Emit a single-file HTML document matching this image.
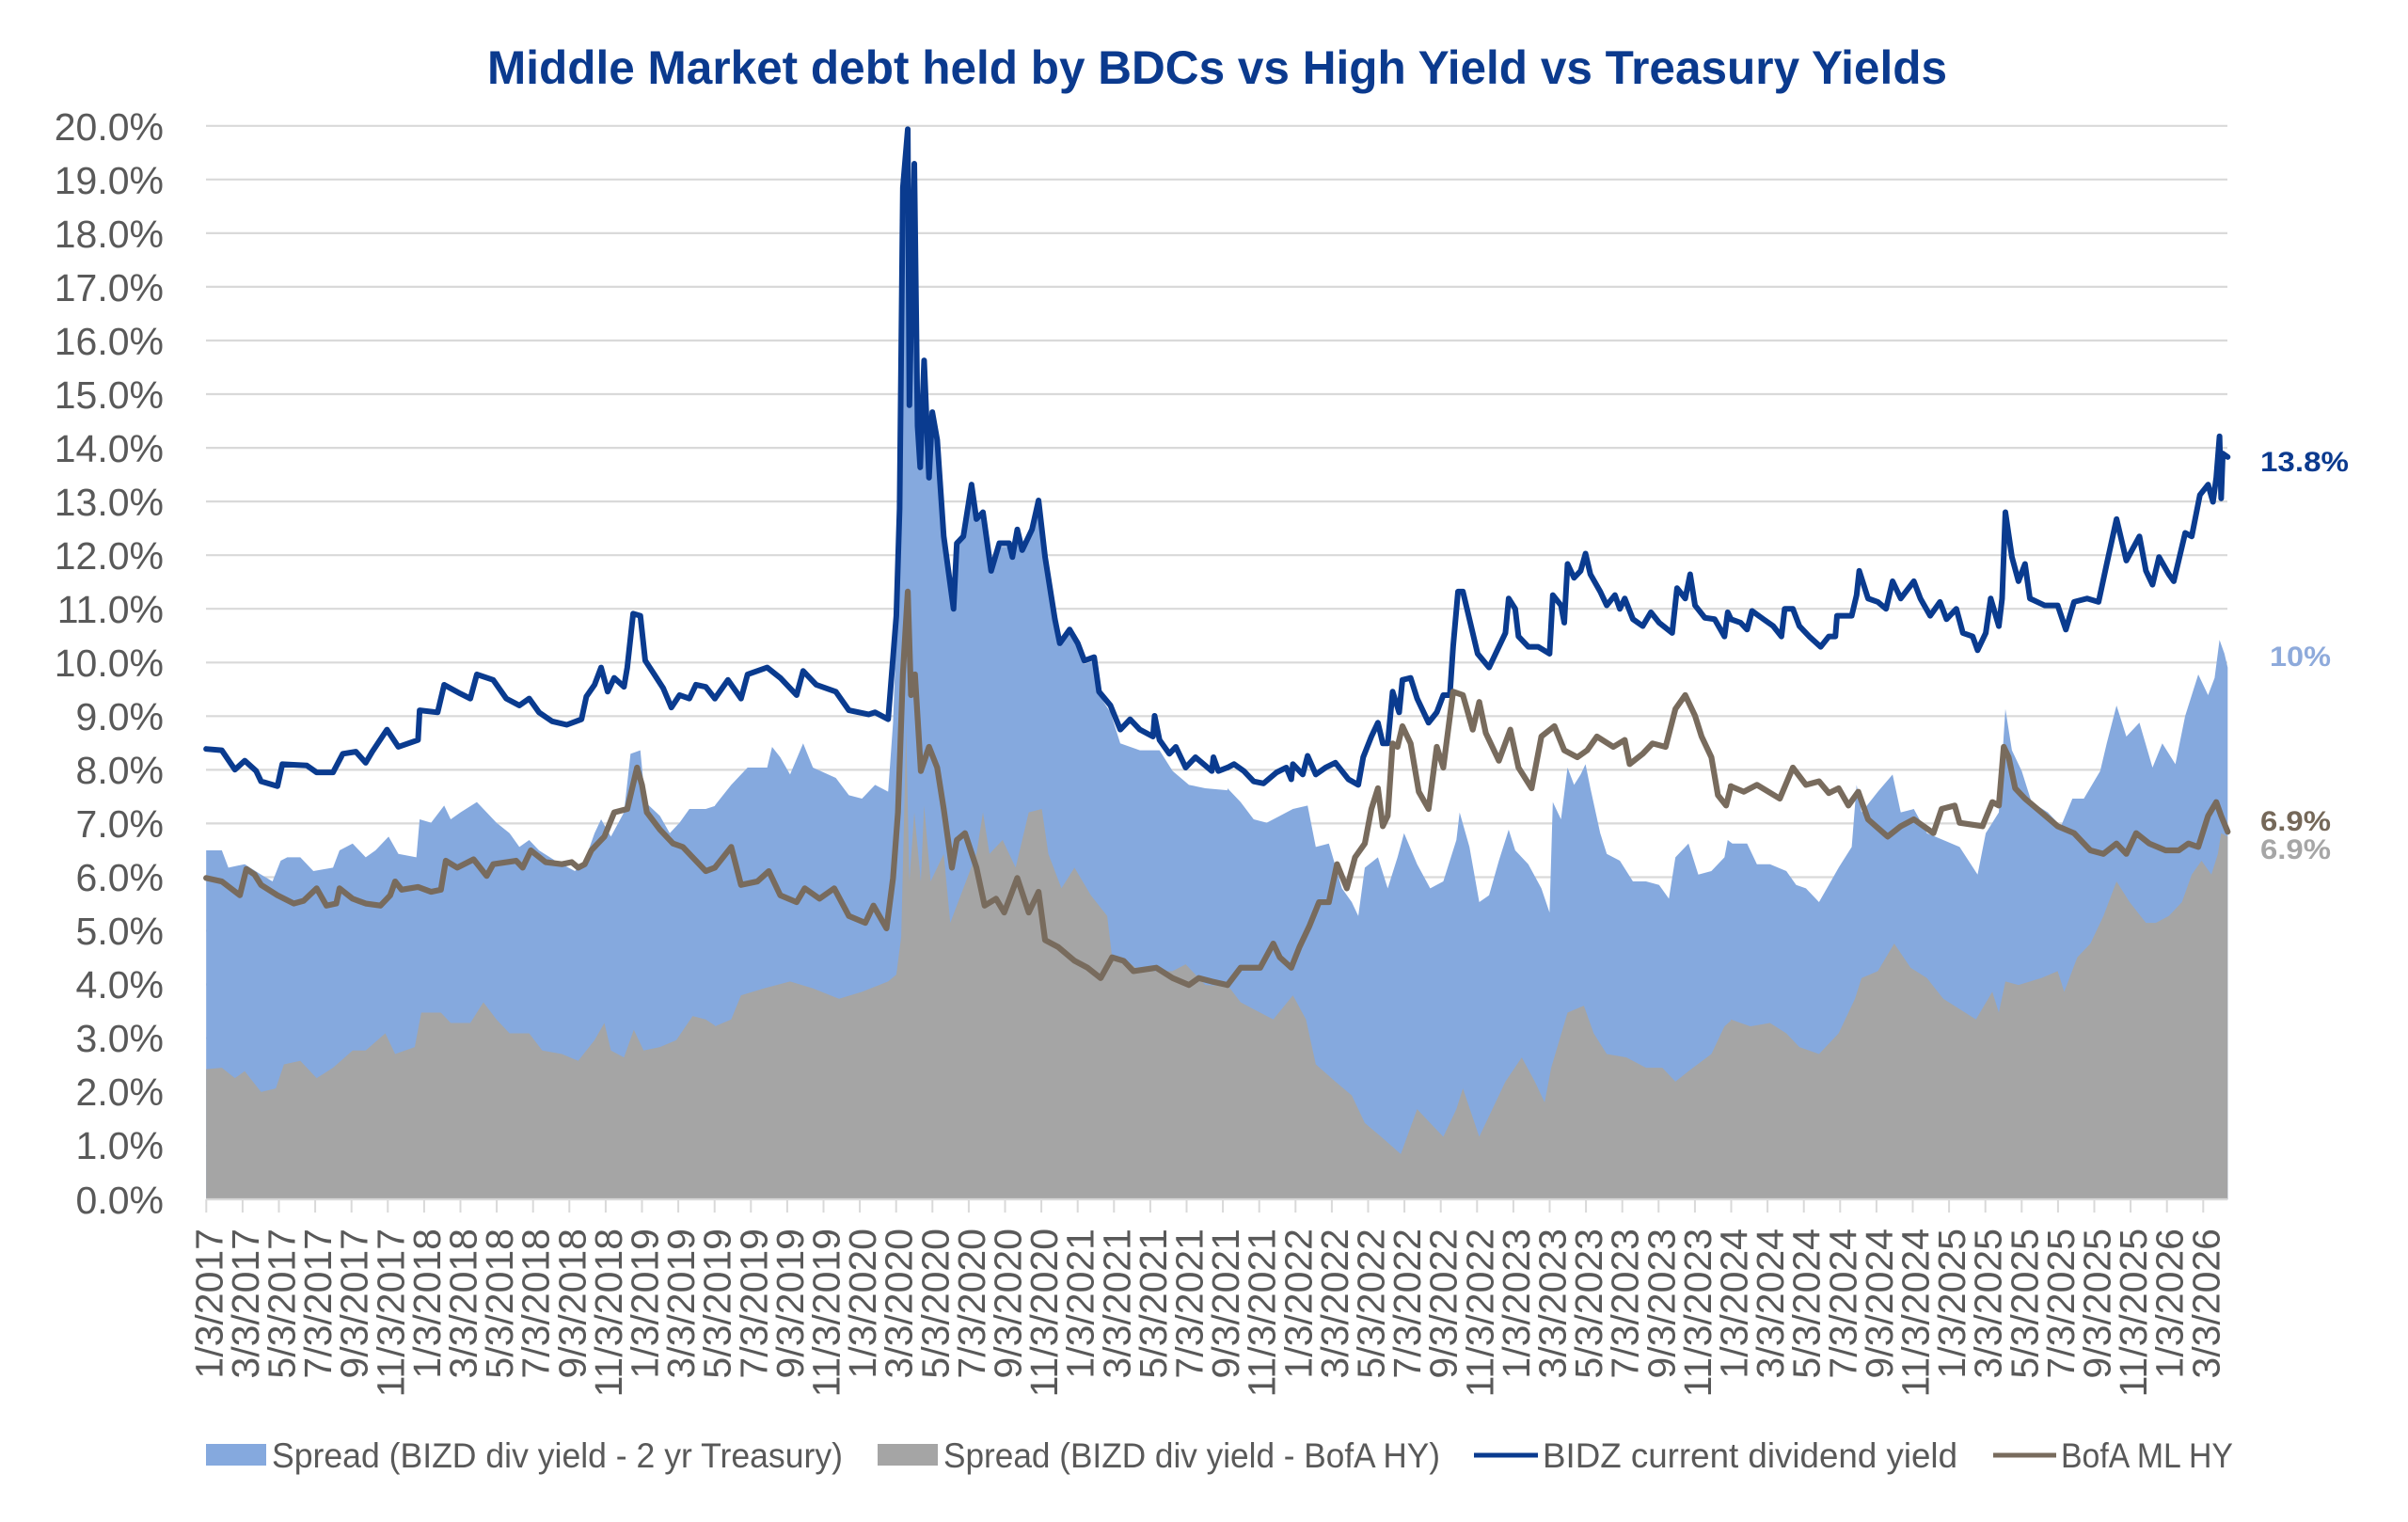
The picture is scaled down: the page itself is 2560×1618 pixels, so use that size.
<!DOCTYPE html>
<html>
<head>
<meta charset="utf-8">
<style>
html,body{margin:0;padding:0;background:#ffffff;}
svg{display:block;}
</style>
</head>
<body>
<svg width="2560" height="1618" viewBox="0 0 2560 1618" xmlns="http://www.w3.org/2000/svg" font-family="'Liberation Sans', Arial, sans-serif">
<rect x="0" y="0" width="2560" height="1618" fill="#ffffff"/>

<!-- Title -->
<text x="518" y="89" font-size="50" font-weight="bold" fill="#0b3a8e" textLength="1552" lengthAdjust="spacingAndGlyphs">Middle Market debt held by BDCs vs High Yield vs Treasury Yields</text>

<!-- Gridlines -->
<g stroke="#d9d9d9" stroke-width="2.2">
<line x1="219" x2="2368" y1="133.8" y2="133.8"/>
<line x1="219" x2="2368" y1="190.8" y2="190.8"/>
<line x1="219" x2="2368" y1="247.9" y2="247.9"/>
<line x1="219" x2="2368" y1="304.9" y2="304.9"/>
<line x1="219" x2="2368" y1="362.0" y2="362.0"/>
<line x1="219" x2="2368" y1="419.0" y2="419.0"/>
<line x1="219" x2="2368" y1="476.1" y2="476.1"/>
<line x1="219" x2="2368" y1="533.1" y2="533.1"/>
<line x1="219" x2="2368" y1="590.2" y2="590.2"/>
<line x1="219" x2="2368" y1="647.2" y2="647.2"/>
<line x1="219" x2="2368" y1="704.3" y2="704.3"/>
<line x1="219" x2="2368" y1="761.3" y2="761.3"/>
<line x1="219" x2="2368" y1="818.4" y2="818.4"/>
<line x1="219" x2="2368" y1="875.4" y2="875.4"/>
<line x1="219" x2="2368" y1="932.5" y2="932.5"/>
<line x1="219" x2="2368" y1="989.5" y2="989.5"/>
<line x1="219" x2="2368" y1="1046.6" y2="1046.6"/>
<line x1="219" x2="2368" y1="1103.6" y2="1103.6"/>
<line x1="219" x2="2368" y1="1160.7" y2="1160.7"/>
<line x1="219" x2="2368" y1="1217.7" y2="1217.7"/>
</g>

<!-- Segment A -->
<g transform="translate(215,130) scale(0.34758,0.73368)">
<path fill="#85a9de" d="M12,1561 L12,1055 L60,1055 L80,1080 L130,1075 L180,1090 L215,1100 L240,1070 L260,1065 L300,1065 L340,1085 L400,1080 L420,1055 L460,1045 L500,1065 L530,1055 L570,1035 L600,1060 L655,1065 L665,1010 L700,1015 L740,990 L760,1010 L790,1000 L840,985 L870,1000 L900,1015 L940,1030 L970,1050 L1000,1040 L1030,1055 L1080,1070 L1140,1085 L1170,1070 L1200,1030 L1220,1010 L1250,1035 L1290,1000 L1310,915 L1340,910 L1355,985 L1400,1005 L1430,1030 L1460,1015 L1490,995 L1540,995 L1572,990 L1572,1561 Z"/>
<path fill="#a5a5a5" d="M12,1561 L12,1372 L60,1370 L100,1385 L130,1375 L180,1405 L225,1400 L250,1365 L300,1360 L350,1385 L400,1370 L460,1345 L500,1345 L560,1320 L590,1350 L650,1340 L670,1290 L730,1290 L760,1305 L820,1305 L860,1275 L900,1300 L940,1320 L1000,1320 L1040,1345 L1100,1350 L1150,1360 L1200,1330 L1230,1305 L1250,1345 L1290,1355 L1320,1315 L1350,1345 L1400,1340 L1450,1330 L1500,1295 L1540,1300 L1572,1310 L1572,1561 Z"/>
</g>

<!-- Segment B -->
<g transform="translate(760,130) scale(0.34758,0.73368)">
<path fill="#85a9de" d="M0,1561 L0,990 L50,960 L100,935 L160,935 L175,905 L200,920 L230,945 L270,900 L300,935 L370,950 L410,975 L450,980 L490,960 L530,970 L545,870 L555,740 L565,570 L575,100 L590,15 L595,415 L610,65 L620,445 L628,505 L640,350 L655,520 L665,425 L680,465 L700,605 L730,710 L740,615 L760,605 L785,530 L800,580 L820,570 L845,655 L870,615 L900,615 L910,635 L925,595 L940,625 L970,595 L990,553 L1010,635 L1040,725 L1055,760 L1085,740 L1110,760 L1130,785 L1160,780 L1175,830 L1210,855 L1240,900 L1300,910 L1360,910 L1400,940 L1450,960 L1500,965 L1572,968 L1572,1561 Z"/>
<path fill="#a5a5a5" d="M0,1561 L0,1310 L50,1300 L80,1265 L150,1255 L230,1245 L300,1255 L380,1270 L450,1260 L530,1245 L555,1235 L570,1180 L585,880 L595,1100 L610,1000 L630,1100 L640,990 L660,1100 L700,1060 L720,1160 L760,1110 L800,1060 L820,1000 L840,1060 L880,1040 L920,1080 L960,1000 L1000,995 L1020,1060 L1060,1110 L1100,1080 L1150,1120 L1200,1150 L1215,1210 L1260,1215 L1300,1230 L1400,1230 L1440,1220 L1500,1250 L1572,1252 L1572,1561 Z"/>
</g>

<!-- Segment C -->
<g transform="translate(1305,130) scale(0.34758,0.73368)">
<path fill="#85a9de" d="M0,1561 L0,965 L40,985 L80,1010 L120,1015 L160,1005 L200,995 L245,990 L270,1050 L310,1045 L350,1110 L380,1130 L400,1150 L420,1080 L460,1065 L490,1110 L520,1065 L540,1030 L580,1075 L620,1110 L660,1100 L700,1040 L710,1000 L740,1050 L770,1130 L800,1120 L830,1070 L860,1025 L880,1055 L920,1075 L960,1110 L985,1145 L995,985 L1020,1010 L1040,935 L1060,960 L1080,945 L1095,930 L1110,965 L1140,1030 L1160,1060 L1200,1070 L1240,1100 L1280,1100 L1320,1105 L1350,1125 L1370,1065 L1410,1045 L1440,1090 L1480,1085 L1520,1065 L1530,1040 L1544,1045 L1544,1561 Z"/>
<path fill="#a5a5a5" d="M0,1561 L0,1250 L40,1275 L100,1290 L140,1300 L200,1265 L240,1300 L270,1365 L330,1390 L380,1410 L420,1450 L470,1470 L530,1495 L580,1430 L620,1450 L660,1470 L700,1430 L720,1400 L770,1470 L800,1440 L850,1390 L900,1355 L940,1390 L970,1420 L990,1370 L1040,1290 L1090,1280 L1120,1320 L1160,1350 L1220,1355 L1280,1370 L1330,1370 L1370,1390 L1410,1375 L1480,1350 L1520,1310 L1544,1300 L1544,1561 Z"/>
</g>

<!-- Segment D -->
<g transform="translate(1840,130) scale(0.34758,0.73368)">
<path fill="#85a9de" d="M0,1561 L0,1045 L50,1045 L80,1075 L120,1075 L170,1085 L200,1105 L230,1110 L270,1130 L300,1105 L330,1080 L370,1050 L385,960 L400,1000 L450,970 L495,945 L520,1000 L560,995 L600,1030 L650,1040 L700,1050 L755,1090 L780,1030 L820,1000 L840,850 L860,910 L890,940 L920,985 L970,1000 L1010,1020 L1045,980 L1080,980 L1130,940 L1150,900 L1180,845 L1210,890 L1250,870 L1290,935 L1320,900 L1360,930 L1390,860 L1430,800 L1460,830 L1480,805 L1495,750 L1510,770 L1520,790 L1520,1561 Z"/>
<path fill="#a5a5a5" d="M0,1561 L0,1300 L60,1310 L120,1305 L170,1320 L210,1340 L270,1350 L330,1320 L380,1270 L400,1240 L450,1230 L500,1190 L550,1225 L600,1240 L650,1270 L700,1285 L750,1300 L800,1260 L820,1290 L840,1245 L880,1250 L950,1240 L1000,1230 L1020,1260 L1060,1210 L1100,1190 L1140,1150 L1180,1100 L1220,1130 L1270,1160 L1300,1160 L1340,1150 L1380,1130 L1410,1090 L1440,1070 L1470,1090 L1490,1060 L1500,1030 L1520,1035 L1520,1561 Z"/>
</g>

<!-- Axis line and ticks -->
<line x1="219" x2="2368" y1="1275" y2="1275" stroke="#d9d9d9" stroke-width="2.2"/>
<g stroke="#d9d9d9" stroke-width="2">
<line x1="219.3" x2="219.3" y1="1275" y2="1289"/><line x1="257.9" x2="257.9" y1="1275" y2="1289"/><line x1="296.5" x2="296.5" y1="1275" y2="1289"/><line x1="335.1" x2="335.1" y1="1275" y2="1289"/><line x1="373.7" x2="373.7" y1="1275" y2="1289"/><line x1="412.3" x2="412.3" y1="1275" y2="1289"/><line x1="450.9" x2="450.9" y1="1275" y2="1289"/><line x1="489.5" x2="489.5" y1="1275" y2="1289"/><line x1="528.1" x2="528.1" y1="1275" y2="1289"/><line x1="566.7" x2="566.7" y1="1275" y2="1289"/><line x1="605.3" x2="605.3" y1="1275" y2="1289"/><line x1="643.9" x2="643.9" y1="1275" y2="1289"/><line x1="682.5" x2="682.5" y1="1275" y2="1289"/><line x1="721.1" x2="721.1" y1="1275" y2="1289"/><line x1="759.7" x2="759.7" y1="1275" y2="1289"/><line x1="798.3" x2="798.3" y1="1275" y2="1289"/><line x1="836.9" x2="836.9" y1="1275" y2="1289"/><line x1="875.5" x2="875.5" y1="1275" y2="1289"/><line x1="914.1" x2="914.1" y1="1275" y2="1289"/><line x1="952.7" x2="952.7" y1="1275" y2="1289"/><line x1="991.3" x2="991.3" y1="1275" y2="1289"/><line x1="1029.9" x2="1029.9" y1="1275" y2="1289"/><line x1="1068.5" x2="1068.5" y1="1275" y2="1289"/><line x1="1107.1" x2="1107.1" y1="1275" y2="1289"/><line x1="1145.7" x2="1145.7" y1="1275" y2="1289"/><line x1="1184.3" x2="1184.3" y1="1275" y2="1289"/><line x1="1222.9" x2="1222.9" y1="1275" y2="1289"/><line x1="1261.5" x2="1261.5" y1="1275" y2="1289"/><line x1="1300.1" x2="1300.1" y1="1275" y2="1289"/><line x1="1338.7" x2="1338.7" y1="1275" y2="1289"/><line x1="1377.3" x2="1377.3" y1="1275" y2="1289"/><line x1="1415.9" x2="1415.9" y1="1275" y2="1289"/><line x1="1454.5" x2="1454.5" y1="1275" y2="1289"/><line x1="1493.1" x2="1493.1" y1="1275" y2="1289"/><line x1="1531.7" x2="1531.7" y1="1275" y2="1289"/><line x1="1570.3" x2="1570.3" y1="1275" y2="1289"/><line x1="1608.9" x2="1608.9" y1="1275" y2="1289"/><line x1="1647.5" x2="1647.5" y1="1275" y2="1289"/><line x1="1686.1" x2="1686.1" y1="1275" y2="1289"/><line x1="1724.7" x2="1724.7" y1="1275" y2="1289"/><line x1="1763.3" x2="1763.3" y1="1275" y2="1289"/><line x1="1801.9" x2="1801.9" y1="1275" y2="1289"/><line x1="1840.5" x2="1840.5" y1="1275" y2="1289"/><line x1="1879.1" x2="1879.1" y1="1275" y2="1289"/><line x1="1917.7" x2="1917.7" y1="1275" y2="1289"/><line x1="1956.3" x2="1956.3" y1="1275" y2="1289"/><line x1="1994.9" x2="1994.9" y1="1275" y2="1289"/><line x1="2033.5" x2="2033.5" y1="1275" y2="1289"/><line x1="2072.1" x2="2072.1" y1="1275" y2="1289"/><line x1="2110.7" x2="2110.7" y1="1275" y2="1289"/><line x1="2149.3" x2="2149.3" y1="1275" y2="1289"/><line x1="2187.9" x2="2187.9" y1="1275" y2="1289"/><line x1="2226.5" x2="2226.5" y1="1275" y2="1289"/><line x1="2265.1" x2="2265.1" y1="1275" y2="1289"/><line x1="2303.7" x2="2303.7" y1="1275" y2="1289"/><line x1="2342.3" x2="2342.3" y1="1275" y2="1289"/>
</g>

<!-- Lines: BIZD -->
<g fill="none" stroke="#0a3b8f" stroke-width="6" stroke-linejoin="round" stroke-linecap="round">
<path vector-effect="non-scaling-stroke" transform="translate(215,130) scale(0.34758,0.73368)" d="M12,908 L60,910 L100,938 L130,925 L165,940 L180,955 L230,962 L245,930 L320,932 L350,942 L400,942 L430,915 L470,912 L500,928 L520,912 L565,880 L600,905 L660,895 L665,852 L720,855 L740,815 L790,828 L820,835 L840,800 L890,808 L930,835 L970,845 L1000,835 L1030,855 L1070,868 L1115,873 L1160,865 L1175,832 L1200,815 L1220,790 L1240,825 L1260,805 L1290,818 L1300,790 L1318,712 L1340,715 L1355,780 L1380,798 L1410,820 L1435,848 L1460,830 L1490,835 L1510,815 L1540,818 L1568,835"/>
<path vector-effect="non-scaling-stroke" transform="translate(760,130) scale(0.34758,0.73368)" d="M0,835 L40,808 L80,835 L100,800 L160,790 L200,805 L250,830 L270,795 L310,815 L370,825 L410,852 L470,858 L490,855 L530,865 L545,775 L555,715 L565,560 L575,95 L590,10 L595,410 L610,60 L620,440 L628,500 L640,345 L655,515 L665,420 L680,460 L700,600 L730,705 L740,610 L760,600 L785,525 L800,575 L820,565 L845,650 L870,610 L900,610 L910,630 L925,590 L940,620 L970,590 L990,548 L1010,630 L1040,720 L1055,755 L1085,735 L1110,755 L1130,780 L1160,775 L1175,825 L1210,845 L1240,880 L1270,865 L1300,880 L1340,890 L1345,860 L1360,895 L1390,915 L1410,905 L1440,935 L1470,920 L1520,940 L1525,920 L1540,940 L1568,935"/>
<path vector-effect="non-scaling-stroke" transform="translate(1305,130) scale(0.34758,0.73368)" d="M0,935 L20,930 L50,940 L80,955 L110,958 L150,942 L180,935 L195,952 L200,930 L230,945 L245,918 L270,945 L300,935 L330,928 L370,952 L400,960 L415,920 L440,890 L460,870 L475,900 L490,900 L505,825 L525,855 L535,808 L560,805 L580,835 L615,870 L640,855 L660,830 L680,830 L690,760 L705,680 L720,680 L745,730 L765,770 L800,790 L830,760 L850,740 L860,690 L880,705 L890,745 L920,760 L950,760 L985,770 L995,685 L1020,700 L1030,725 L1040,640 L1060,660 L1080,650 L1095,625 L1110,655 L1140,680 L1160,700 L1185,685 L1200,705 L1215,690 L1240,720 L1270,730 L1295,710 L1320,725 L1360,740 L1375,675 L1400,690 L1415,655 L1430,700 L1460,718 L1490,720 L1520,745 L1530,710 L1540,720"/>
<path vector-effect="non-scaling-stroke" transform="translate(1840,130) scale(0.34758,0.73368)" d="M0,720 L30,725 L50,735 L65,708 L100,720 L130,730 L155,745 L165,705 L190,705 L210,730 L240,745 L275,760 L300,745 L320,745 L325,715 L370,715 L385,685 L393,650 L420,690 L450,695 L475,705 L495,665 L520,690 L560,665 L580,690 L610,715 L640,695 L660,720 L690,705 L710,740 L740,745 L755,765 L780,740 L795,690 L820,730 L830,690 L840,565 L860,630 L880,665 L900,640 L915,690 L960,700 L1000,700 L1025,735 L1050,695 L1090,690 L1125,695 L1150,640 L1180,575 L1210,635 L1250,600 L1270,650 L1290,670 L1310,630 L1340,655 L1355,665 L1390,595 L1410,600 L1435,540 L1460,525 L1475,550 L1485,515 L1495,455 L1500,545 L1505,480 L1520,485"/>
</g>

<!-- Lines: BofA ML HY -->
<g fill="none" stroke="#786b5d" stroke-width="6.2" stroke-linejoin="round" stroke-linecap="round">
<path vector-effect="non-scaling-stroke" transform="translate(215,130) scale(0.34758,0.73368)" d="M12,1095 L60,1100 L115,1120 L135,1082 L160,1090 L180,1105 L230,1120 L280,1132 L310,1128 L350,1110 L380,1135 L410,1132 L420,1110 L460,1125 L500,1132 L545,1135 L575,1120 L590,1100 L610,1112 L660,1108 L700,1115 L730,1112 L745,1070 L780,1080 L830,1068 L870,1092 L890,1075 L960,1070 L980,1080 L1005,1055 L1050,1072 L1100,1075 L1130,1072 L1150,1080 L1170,1075 L1190,1055 L1230,1035 L1260,1000 L1300,995 L1315,965 L1330,935 L1345,960 L1360,1000 L1400,1025 L1440,1045 L1470,1050 L1500,1065 L1540,1085 L1568,1080"/>
<path vector-effect="non-scaling-stroke" transform="translate(760,130) scale(0.34758,0.73368)" d="M0,1080 L50,1050 L80,1105 L130,1100 L165,1085 L200,1120 L250,1130 L275,1110 L320,1125 L365,1110 L410,1150 L460,1160 L485,1135 L525,1168 L545,1095 L560,1000 L575,800 L590,680 L600,830 L612,800 L630,940 L655,905 L680,935 L700,995 L725,1080 L740,1040 L765,1030 L800,1080 L825,1135 L860,1125 L885,1145 L925,1095 L960,1145 L990,1115 L1010,1185 L1050,1195 L1100,1215 L1140,1225 L1180,1240 L1215,1210 L1250,1215 L1280,1230 L1350,1225 L1400,1240 L1450,1250 L1480,1240 L1520,1245 L1568,1250"/>
<path vector-effect="non-scaling-stroke" transform="translate(1305,130) scale(0.34758,0.73368)" d="M0,1250 L40,1225 L100,1225 L140,1190 L160,1210 L195,1225 L220,1195 L250,1165 L280,1130 L310,1130 L335,1075 L365,1110 L390,1065 L420,1045 L440,995 L460,965 L475,1020 L490,1005 L505,900 L520,905 L535,875 L560,900 L585,970 L615,995 L640,905 L660,935 L690,825 L720,830 L750,880 L770,840 L790,885 L830,925 L865,880 L890,935 L930,965 L960,890 L1000,875 L1030,910 L1070,920 L1100,910 L1130,890 L1180,905 L1215,895 L1230,930 L1270,915 L1300,900 L1340,905 L1370,850 L1400,830 L1430,860 L1450,890 L1480,920 L1500,975 L1525,990 L1540,962"/>
<path vector-effect="non-scaling-stroke" transform="translate(1840,130) scale(0.34758,0.73368)" d="M0,962 L40,970 L80,960 L150,980 L190,935 L230,960 L270,955 L300,972 L330,965 L360,990 L390,970 L420,1010 L480,1035 L520,1020 L560,1010 L620,1030 L645,995 L685,990 L700,1015 L770,1020 L800,985 L820,990 L835,905 L850,920 L870,965 L900,980 L950,1000 L1000,1020 L1050,1030 L1100,1055 L1140,1060 L1180,1045 L1210,1060 L1240,1030 L1280,1045 L1330,1055 L1370,1055 L1400,1045 L1430,1050 L1460,1005 L1485,985 L1500,1005 L1520,1028"/>
</g>

<!-- Y-axis labels -->
<g font-size="41" fill="#595959" text-anchor="end">
<text x="174" y="149">20.0%</text>
<text x="174" y="206">19.0%</text>
<text x="174" y="263">18.0%</text>
<text x="174" y="320">17.0%</text>
<text x="174" y="377">16.0%</text>
<text x="174" y="434">15.0%</text>
<text x="174" y="491">14.0%</text>
<text x="174" y="548">13.0%</text>
<text x="174" y="605">12.0%</text>
<text x="174" y="662">11.0%</text>
<text x="174" y="719">10.0%</text>
<text x="174" y="776">9.0%</text>
<text x="174" y="833">8.0%</text>
<text x="174" y="890">7.0%</text>
<text x="174" y="947">6.0%</text>
<text x="174" y="1004">5.0%</text>
<text x="174" y="1061">4.0%</text>
<text x="174" y="1118">3.0%</text>
<text x="174" y="1175">2.0%</text>
<text x="174" y="1232">1.0%</text>
<text x="174" y="1290">0.0%</text>
</g>

<!-- X-axis labels -->
<g font-size="41" fill="#595959" text-anchor="end">
<text transform="translate(236.3,1306) rotate(-90)">1/3/2017</text>
<text transform="translate(274.9,1306) rotate(-90)">3/3/2017</text>
<text transform="translate(313.5,1306) rotate(-90)">5/3/2017</text>
<text transform="translate(352.1,1306) rotate(-90)">7/3/2017</text>
<text transform="translate(390.7,1306) rotate(-90)">9/3/2017</text>
<text transform="translate(429.3,1306) rotate(-90)">11/3/2017</text>
<text transform="translate(467.9,1306) rotate(-90)">1/3/2018</text>
<text transform="translate(506.5,1306) rotate(-90)">3/3/2018</text>
<text transform="translate(545.1,1306) rotate(-90)">5/3/2018</text>
<text transform="translate(583.7,1306) rotate(-90)">7/3/2018</text>
<text transform="translate(622.3,1306) rotate(-90)">9/3/2018</text>
<text transform="translate(660.9,1306) rotate(-90)">11/3/2018</text>
<text transform="translate(699.5,1306) rotate(-90)">1/3/2019</text>
<text transform="translate(738.1,1306) rotate(-90)">3/3/2019</text>
<text transform="translate(776.7,1306) rotate(-90)">5/3/2019</text>
<text transform="translate(815.3,1306) rotate(-90)">7/3/2019</text>
<text transform="translate(853.9,1306) rotate(-90)">9/3/2019</text>
<text transform="translate(892.5,1306) rotate(-90)">11/3/2019</text>
<text transform="translate(931.1,1306) rotate(-90)">1/3/2020</text>
<text transform="translate(969.7,1306) rotate(-90)">3/3/2020</text>
<text transform="translate(1008.3,1306) rotate(-90)">5/3/2020</text>
<text transform="translate(1046.9,1306) rotate(-90)">7/3/2020</text>
<text transform="translate(1085.5,1306) rotate(-90)">9/3/2020</text>
<text transform="translate(1124.1,1306) rotate(-90)">11/3/2020</text>
<text transform="translate(1162.7,1306) rotate(-90)">1/3/2021</text>
<text transform="translate(1201.3,1306) rotate(-90)">3/3/2021</text>
<text transform="translate(1239.9,1306) rotate(-90)">5/3/2021</text>
<text transform="translate(1278.5,1306) rotate(-90)">7/3/2021</text>
<text transform="translate(1317.1,1306) rotate(-90)">9/3/2021</text>
<text transform="translate(1355.7,1306) rotate(-90)">11/3/2021</text>
<text transform="translate(1394.3,1306) rotate(-90)">1/3/2022</text>
<text transform="translate(1432.9,1306) rotate(-90)">3/3/2022</text>
<text transform="translate(1471.5,1306) rotate(-90)">5/3/2022</text>
<text transform="translate(1510.1,1306) rotate(-90)">7/3/2022</text>
<text transform="translate(1548.7,1306) rotate(-90)">9/3/2022</text>
<text transform="translate(1587.3,1306) rotate(-90)">11/3/2022</text>
<text transform="translate(1625.9,1306) rotate(-90)">1/3/2023</text>
<text transform="translate(1664.5,1306) rotate(-90)">3/3/2023</text>
<text transform="translate(1703.1,1306) rotate(-90)">5/3/2023</text>
<text transform="translate(1741.7,1306) rotate(-90)">7/3/2023</text>
<text transform="translate(1780.3,1306) rotate(-90)">9/3/2023</text>
<text transform="translate(1818.9,1306) rotate(-90)">11/3/2023</text>
<text transform="translate(1857.5,1306) rotate(-90)">1/3/2024</text>
<text transform="translate(1896.1,1306) rotate(-90)">3/3/2024</text>
<text transform="translate(1934.7,1306) rotate(-90)">5/3/2024</text>
<text transform="translate(1973.3,1306) rotate(-90)">7/3/2024</text>
<text transform="translate(2011.9,1306) rotate(-90)">9/3/2024</text>
<text transform="translate(2050.5,1306) rotate(-90)">11/3/2024</text>
<text transform="translate(2089.1,1306) rotate(-90)">1/3/2025</text>
<text transform="translate(2127.7,1306) rotate(-90)">3/3/2025</text>
<text transform="translate(2166.3,1306) rotate(-90)">5/3/2025</text>
<text transform="translate(2204.9,1306) rotate(-90)">7/3/2025</text>
<text transform="translate(2243.5,1306) rotate(-90)">9/3/2025</text>
<text transform="translate(2282.1,1306) rotate(-90)">11/3/2025</text>
<text transform="translate(2320.7,1306) rotate(-90)">1/3/2026</text>
<text transform="translate(2359.3,1306) rotate(-90)">3/3/2026</text>
</g>

<!-- Right-side value labels -->
<g font-size="30" font-weight="bold">
<text x="2403" y="501" fill="#0b3a8e" textLength="94" lengthAdjust="spacingAndGlyphs">13.8%</text>
<text x="2413" y="708" fill="#8eaadb" textLength="65" lengthAdjust="spacingAndGlyphs">10%</text>
<text x="2403" y="883" fill="#756859" textLength="75" lengthAdjust="spacingAndGlyphs">6.9%</text>
<text x="2403" y="913" fill="#a6a6a6" textLength="75" lengthAdjust="spacingAndGlyphs">6.9%</text>
</g>

<!-- Legend -->
<rect x="219" y="1535" width="64" height="23" fill="#85a9de"/>
<text x="289" y="1560" font-size="37" fill="#595959" textLength="607" lengthAdjust="spacingAndGlyphs">Spread (BIZD div yield - 2 yr Treasury)</text>
<rect x="933" y="1535" width="64" height="23" fill="#a5a5a5"/>
<text x="1003" y="1560" font-size="37" fill="#595959" textLength="528" lengthAdjust="spacingAndGlyphs">Spread (BIZD div yield - BofA HY)</text>
<line x1="1567" x2="1635" y1="1547" y2="1547" stroke="#0a3b8f" stroke-width="5"/>
<text x="1640" y="1560" font-size="37" fill="#595959" textLength="441" lengthAdjust="spacingAndGlyphs">BIDZ current dividend yield</text>
<line x1="2119" x2="2186" y1="1547" y2="1547" stroke="#786b5d" stroke-width="5"/>
<text x="2191" y="1560" font-size="37" fill="#595959" textLength="183" lengthAdjust="spacingAndGlyphs">BofA ML HY</text>
</svg>
</body>
</html>
